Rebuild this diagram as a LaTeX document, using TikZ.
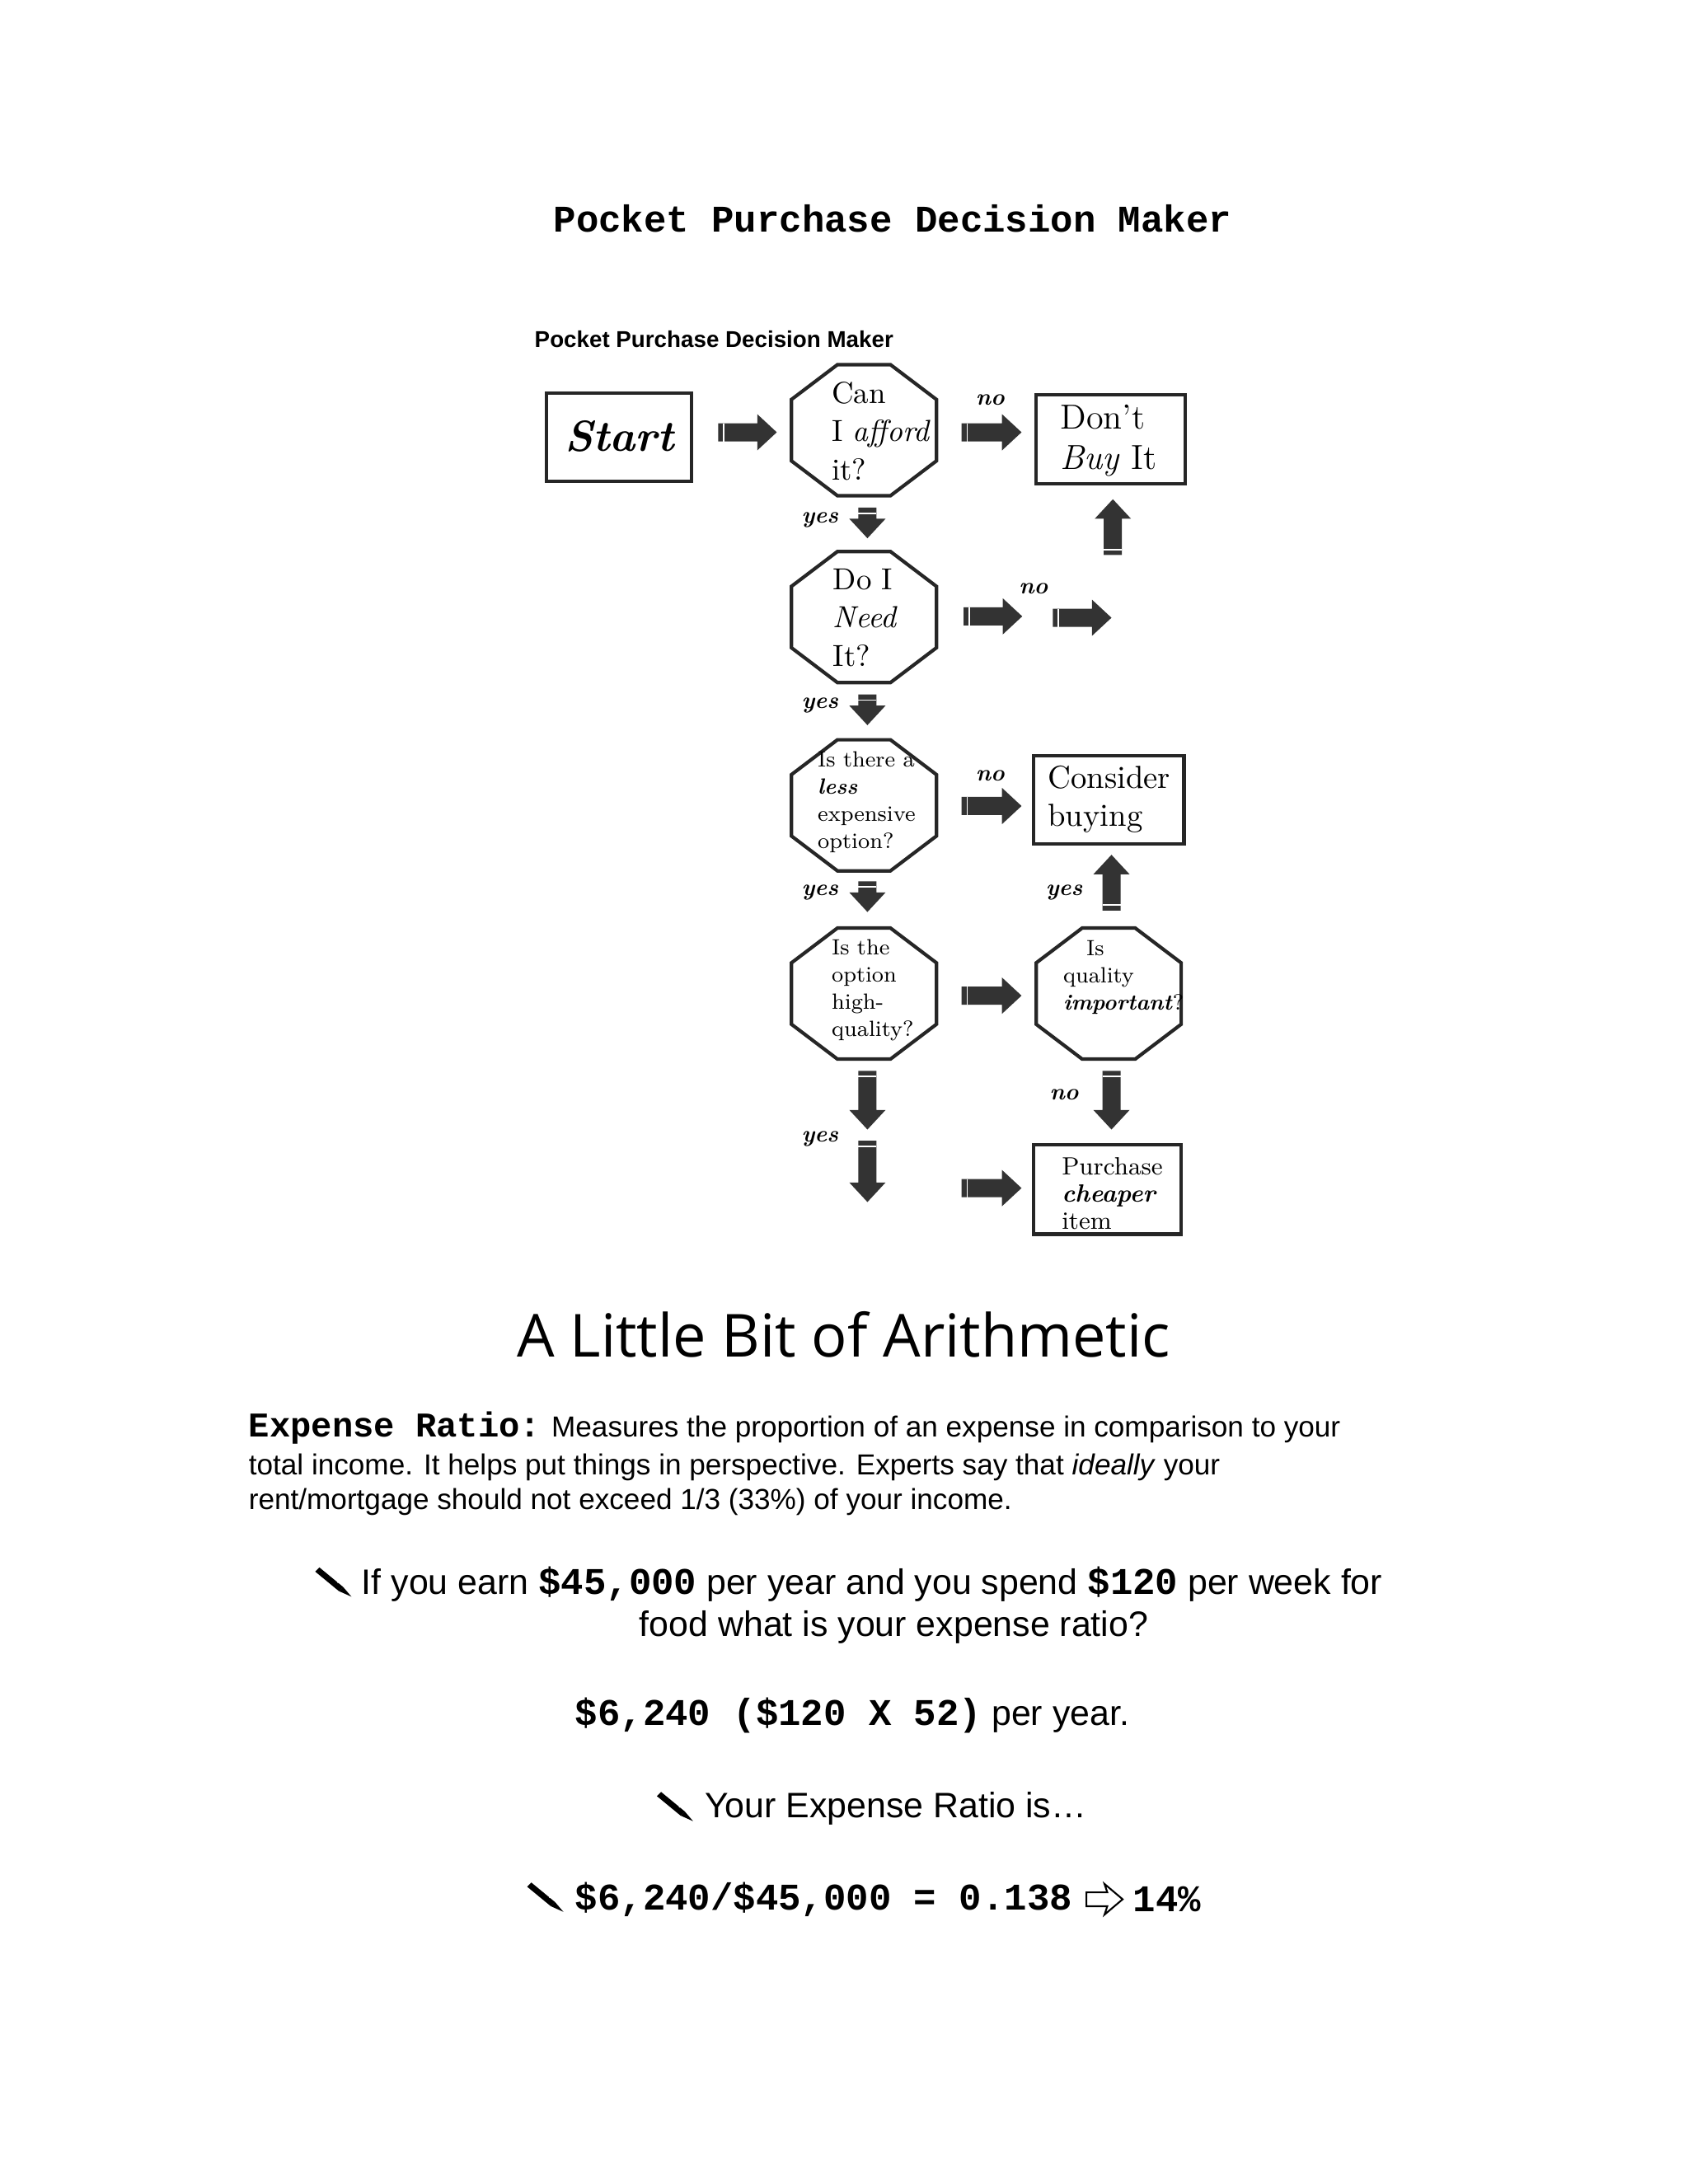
\documentclass[tikz,border=0pt]{standalone}
\usepackage{fontspec}
\setmainfont{Latin Modern Roman}
\newfontfamily\sans{Liberation Sans}
\newfontfamily\mono{Liberation Mono}
\newfontfamily\osans{Open Sans}
\begin{document}
\begin{tikzpicture}[x=0.01692cm,y=-0.01692cm,
  arrowc/.style={fill=black!80},
  shp/.style={draw=black!85,line width=1.2pt},
  lbl/.style={font=\bfseries\itshape\fontsize{8}{8}\selectfont,inner sep=0},
  oct/.style={anchor=west,align=left,inner sep=0,font=\fontsize{10.5}{13.2}\selectfont},
  octs/.style={anchor=west,align=left,inner sep=0,font=\fontsize{7.6}{9.4}\selectfont},
  body/.style={anchor=west,inner sep=0,font=\sans\fontsize{10}{12}\selectfont}]
\useasboundingbox (0,0) rectangle (1210.4,1566.2);
\newcommand\farr[4]{\begin{scope}[shift={(#1,#2)},rotate=#4]
 \fill[arrowc] (-#3/2,-6.5)--(#3/2-14,-6.5)--(#3/2-14,-13)--(#3/2,0)--(#3/2-14,13)--(#3/2-14,6.5)--(-#3/2,6.5)--cycle;
 \draw[white,line width=0.5pt] (-#3/2+4,-6.5)--(-#3/2+4,6.5);
 \end{scope}}
\newcommand\octo[2]{\draw[shp] (#1-19,#2-47)--(#1+19,#2-47)--(#1+52,#2-22)--(#1+52,#2+22)--(#1+19,#2+47)--(#1-19,#2+47)--(#1-52,#2+22)--(#1-52,#2-22)--cycle;}
\newcommand\pencil[2]{\begin{scope}[shift={(#1,#2)}]
 \fill[black] (0,-9)--(3,-12)--(20,2)--(17,5)--cycle;
 \fill[black] (17,5)--(20,2)--(26,9)--cycle;
 \draw[white,line width=0.4pt] (16,-1)--(19,-4);
 \end{scope}}

% titles
\node[font=\mono\bfseries\fontsize{13}{13}\selectfont] (title) at (640,157) {Pocket Purchase Decision Maker};
\node[anchor=west,inner sep=0,font=\sans\bfseries\fontsize{7.9}{8}\selectfont] (sub) at (383,243) {Pocket Purchase Decision Maker};

% start
\draw[shp] (392,282) rectangle (496,345);
\node[font=\bfseries\itshape\fontsize{15}{15}\selectfont] (start) at (444,313) {Start};
\farr{536}{310}{42}{0}

% octagon 1
\octo{619.5}{308.5}
\node[oct] (q1) at (596,309) {Can\\I \textit{afford}\\it?};
\node[lbl] (no1) at (710,287) {no};
\farr{711}{310}{43}{0}
\draw[shp] (743,283) rectangle (850,347);
\node[font=\fontsize{12}{14}\selectfont,align=left] (dont) at (795,316) {Don't\\\textit{Buy} It};
\farr{798}{378}{40}{90}

\node[lbl] (y1) at (588,373) {yes};
\farr{622}{375}{22}{-90}

% octagon 2
\octo{619.5}{442.5}
\node[oct] (q2) at (597,443) {Do I\\\textit{Need}\\It?};
\farr{712}{442}{42}{0}
\node[lbl] (no2) at (741,422) {no};
\farr{776}{443}{42}{0}

\node[lbl] (y2) at (588,506) {yes};
\farr{622}{509}{22}{-90}

% octagon 3
\octo{619.5}{577.5}
\node[octs] (q3) at (586,575) {Is there a\\\textbf{\textit{less}}\\expensive\\option?};
\node[lbl] (no3) at (710,556) {no};
\farr{711}{578}{43}{0}
\draw[shp] (741,542) rectangle (849,605);
\node[anchor=west,align=left,inner sep=0,font=\fontsize{11}{13}\selectfont] (cons) at (751,573) {Consider\\buying};
\node[lbl] (y5) at (763,640) {yes};
\farr{797}{633}{40}{90}

\node[lbl] (y3) at (588,640) {yes};
\farr{622}{643}{22}{-90}

% octagon 4
\octo{619.5}{712.5}
\node[octs] (q4) at (596,710) {Is the\\option\\high-\\quality?};
\farr{711}{714}{43}{0}

% octagon 5
\octo{795}{712.5}
\node[octs] (q5) at (762,701) {\hspace*{8pt}Is\\quality\\\textbf{\textit{important}}?};
\node[lbl] (no5) at (763,785) {no};
\farr{797}{789}{42}{-90}

\farr{622}{789}{42}{-90}
\node[lbl] (y4) at (588,817) {yes};
\farr{622}{840}{44}{-90}
\farr{711}{852}{43}{0}

\draw[shp] (741,821) rectangle (847,885);
\node[octs,font=\fontsize{8.6}{9.4}\selectfont] (pur) at (761,856) {Purchase\\\textbf{\textit{cheaper}}\\item};

% arithmetic
\node[font=\osans\fontsize{20.5}{21}\selectfont] (arith) at (605,957) {A Little Bit of Arithmetic};
\node[body] (l1) at (178,1024) {{\mono\bfseries\fontsize{12}{12}\selectfont Expense Ratio:} Measures the proportion of an expense in comparison to your};
\node[body] (l2) at (178,1052) {total income. It helps put things in perspective. Experts say that \textit{ideally} your};
\node[body] (l3) at (178,1077) {rent/mortgage should not exceed 1/3 (33\%) of your income.};

\pencil{226}{1136}
\node[body,font=\sans\fontsize{12.2}{14}\selectfont] (qa) at (259,1136) {If you earn {\mono\bfseries\fontsize{13}{13}\selectfont\$45,000} per year and you spend {\mono\bfseries\fontsize{13}{13}\selectfont\$120} per week for};
\node[font=\sans\fontsize{12.2}{14}\selectfont,inner sep=0] (qb) at (641,1167) {food what is your expense ratio?};
\node[body,font=\sans\fontsize{12.2}{14}\selectfont] (ans) at (412,1230) {{\mono\bfseries\fontsize{13}{13}\selectfont\$6,240 (\$120 X 52)} per year.};
\pencil{471}{1297}
\node[body,font=\sans\fontsize{12.2}{14}\selectfont] (yr) at (505,1297) {Your Expense Ratio is…};
\pencil{378}{1362}
\node[body,font=\mono\bfseries\fontsize{13}{13}\selectfont] (calc) at (412,1362) {\$6,240/\$45,000 = 0.138};
\draw[line width=0.6pt,line join=miter] (779,1357)--(794,1357)--(792,1351)--(805,1362)--(792,1373)--(794,1367)--(779,1367)--cycle;
\node[body,font=\mono\bfseries\fontsize{13}{13}\selectfont] (pct) at (812,1362) {14\%};
\end{tikzpicture}
\end{document}
